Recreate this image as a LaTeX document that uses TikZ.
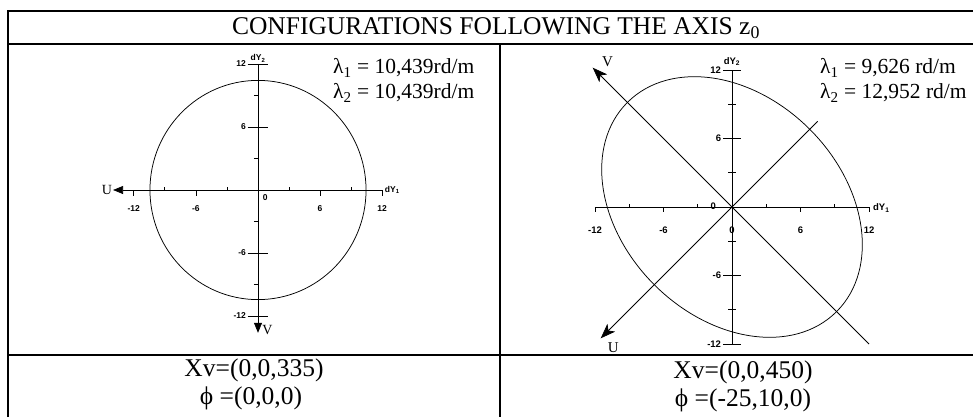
\documentclass[tikz,border=0pt]{standalone}
\usepackage{fontspec}
\setmainfont{Liberation Serif}
\setsansfont{Liberation Sans}
\usetikzlibrary{arrows.meta, positioning}

\begin{document}
\begin{tikzpicture}[
  x=1pt, y=-1pt,
  rule/.style={line width=2.2pt},
  axis/.style={line width=0.75pt},
  arrowL/.style={axis, -{Triangle[length=10pt, width=8pt]}},
  arrowR/.style={axis, -{Stealth[length=15pt, width=11pt, inset=4pt]}},
  ticklab/.style={font=\sffamily\bfseries\fontsize{8.5}{9}\selectfont, inner sep=0.5pt},
  ticklabR/.style={ticklab, font=\sffamily\bfseries\fontsize{9.5}{10}\selectfont},
  big/.style={font=\fontsize{25.5}{28}\selectfont, inner sep=0pt},
  lam/.style={font=\fontsize{21.5}{24}\selectfont, anchor=west, inner sep=0pt},
  uv/.style={font=\fontsize{14}{16}\selectfont, inner sep=1pt}
]
\useasboundingbox (0,0) rectangle (973,417);

% table rules
\draw[rule] (8,417) -- (8,11) -- (973,11);
\draw[rule] (8,44) -- (973,44);
\draw[rule] (8,355) -- (973,355);
\draw[rule] (500,44) -- (500,417);

\node[big] (head) at (496,28) {CONFIGURATIONS FOLLOWING THE AXIS z\textsubscript{0}};

\node[lam] (lamOneL) at (333,68) {λ\textsubscript{1} = 10,439rd/m};
\node[lam] (lamTwoL) at (333,93) {λ\textsubscript{2} = 10,439rd/m};
\node[lam] (lamOneR) at (820,68) {λ\textsubscript{1} = 9,626 rd/m};
\node[lam] (lamTwoR) at (820,93) {λ\textsubscript{2} = 12,952 rd/m};

\node[big] (xvL) at (254,370) {Xv=(0,0,335)};
\node[big] (phiL) at (251,398) {ϕ =(0,0,0)};
\node[big] (xvR) at (743,372) {Xv=(0,0,450)};
\node[big] (phiR) at (743,400) {ϕ =(-25,10,0)};

% left plot
\begin{scope}[shift={(258,190)}, x=10.35pt, y=10.5pt]
  \coordinate (endL) at (12,0);
  \coordinate (tipU) at (-14,0);
  \coordinate (topL) at (0,12);
  \coordinate (tipV) at (0,-13.6);
  \draw[arrowL] (endL) -- (tipU);
  \draw[arrowL] (topL) -- (tipV);
  \draw[axis] (0,0) circle [radius=10.439];
  \foreach \t in {-12,-6,6,12} {
    \draw[axis] (\t,0) -- ++(0,-0.6);
    \draw[axis] (-1,\t) -- (1,\t);
    \node[ticklab] (hxL\t) at (\t,-1.8) {\t};
  }
  \foreach \t in {-9,-3,3,9} {
    \draw[axis] (\t,0) -- ++(0,0.3);
    \draw[axis] (-0.4,\t) -- (0,\t);
  }
  \foreach \t in {-12,-6,6,12}
    \node[ticklab, anchor=east] (vyL\t) at (-1.1,\t) {\t};
  \node[ticklab, anchor=west] (zeroL) at (0.4,-0.7) {0};
  \node[ticklab, anchor=west] (dyOneL) at (12.2,0) {dY\textsubscript{1}};
  \node[ticklab, anchor=south] (dyTwoL) at (0,12.1) {dY\textsubscript{2}};
  \node[uv, anchor=east] (labU) at (tipU) {U};
  \node[uv, anchor=west] (labV) at (0.3,-13.3) {V};
\end{scope}

% right plot
\begin{scope}[shift={(732,207)}, x=11.42pt, y=11.42pt]
  \coordinate (endU) at (7.5,7.5);
  \coordinate (tipUR) at (-11.5,-11.5);
  \coordinate (endV) at (12,-12);
  \coordinate (tipVR) at (-12.2,12.2);
  \draw[axis] (-12,0) -- (12,0);
  \draw[axis] (0,-12) -- (0,12);
  \draw[axis, rotate=45] (0,0) ellipse [x radius=9.626, y radius=12.952];
  \draw[arrowR] (endU) -- (tipUR);
  \draw[arrowR] (endV) -- (tipVR);
  \foreach \t in {-12,-6,6,12} {
    \draw[axis] (\t,0) -- ++(0,-0.45);
    \draw[axis] (-0.75,\t) -- (0.75,\t);
    \node[ticklabR] (hxR\t) at (\t,-2) {\t};
    \node[ticklabR, anchor=east] (vyR\t) at (-0.9,\t) {\t};
  }
  \foreach \t in {-9,-3,3,9} {
    \draw[axis] (\t,0) -- ++(0,0.3);
    \draw[axis] (-0.35,\t) -- (0.35,\t);
  }
  \node[ticklabR] (zeroR) at (0,-2) {0};
  \node[ticklabR] (zeroRl) at (-1.65,0.1) {0};
  \node[ticklabR, anchor=west] (dyOneR) at (12.3,-0.1) {dY\textsubscript{1}};
  \node[ticklabR, anchor=south] (dyTwoR) at (0,12.3) {dY\textsubscript{2}};
  \node[uv, font=\fontsize{15}{16}\selectfont] (labUR) at (-10.4,-12.3) {U};
  \node[uv, font=\fontsize{15}{16}\selectfont] (labVR) at (-10.9,12.7) {V};
\end{scope}

\end{tikzpicture}
\end{document}
